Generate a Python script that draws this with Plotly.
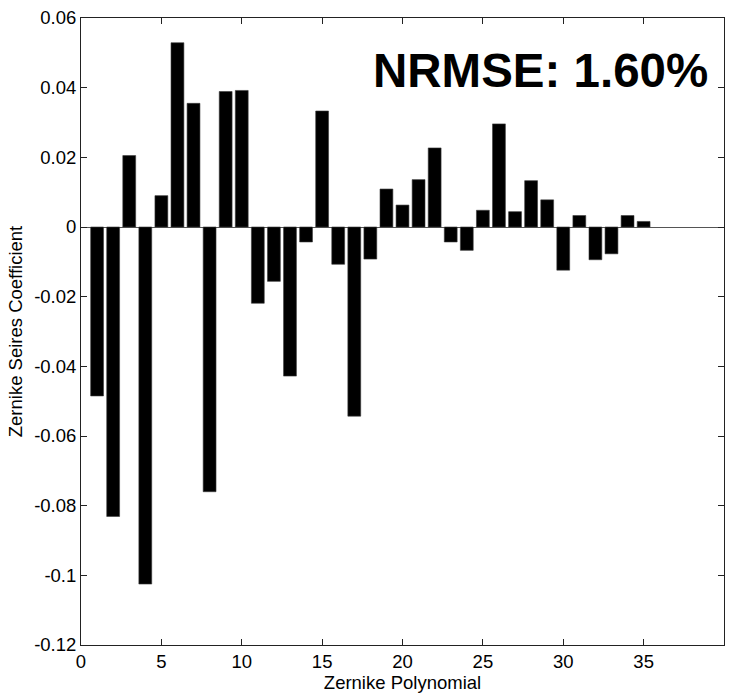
import plotly.graph_objects as go

# Zernike polynomial index
polynomials = list(range(1, 36))
# Zernike series coefficients
coefficients = [
    -0.0485, -0.0831, 0.0205, -0.1025, 0.0090,
    0.0529, 0.0355, -0.0760, 0.0389, 0.0392,
    -0.0219, -0.0156, -0.0428, -0.0043, 0.0333,
    -0.0107, -0.0543, -0.0092, 0.0109, 0.0063,
    0.0136, 0.0227, -0.0043, -0.0067, 0.0048,
    0.0296, 0.0044, 0.0133, 0.0078, -0.0124,
    0.0033, -0.0094, -0.0077, 0.0033, 0.0016,
]

x_tickvals = [0, 5, 10, 15, 20, 25, 30, 35, 40]
x_ticktext = ["0", "5", "10", "15", "20", "25", "30", "35", "40"]
y_tickvals = [0.06, 0.04, 0.02, 0, -0.02, -0.04, -0.06, -0.08, -0.1, -0.12]
y_ticktext = ["0.06", "0.04", "0.02", "0", "-0.02", "-0.04", "-0.06", "-0.08", "-0.1", "-0.12"]

annotation_text = "NRMSE: 1.60%"
x_title = "Zernike Polynomial"
y_title = "Zernike Seires Coefficient"

FONT = "Liberation Sans, Arial, Helvetica, sans-serif"

fig = go.Figure()
fig.add_trace(go.Bar(
    x=polynomials,
    y=coefficients,
    width=0.8,
    marker=dict(color="black", line=dict(color="#3a3a3a", width=0.6)),
    showlegend=False,
))

axis_common = dict(
    showline=True,
    linecolor="#222222",
    linewidth=1,
    mirror="ticks",
    ticks="inside",
    ticklen=6,
    tickwidth=1,
    tickcolor="#222222",
    showgrid=False,
    tickfont=dict(family=FONT, size=18.5, color="black"),
)

fig.update_xaxes(
    range=[0, 40],
    tickvals=x_tickvals,
    ticktext=x_ticktext,
    zeroline=False,
    title=dict(text=x_title, font=dict(family=FONT, size=18.5, color="black"), standoff=2),
    **axis_common,
)
fig.update_yaxes(
    range=[-0.12, 0.06],
    tickvals=y_tickvals,
    ticktext=y_ticktext,
    zeroline=True,
    zerolinecolor="#555555",
    zerolinewidth=1,
    title=dict(text=y_title, font=dict(family=FONT, size=18.5, color="black"), standoff=6),
    **axis_common,
)

fig.add_annotation(
    text="<b>" + annotation_text + "</b>",
    xref="paper", yref="paper",
    x=0.979, y=0.917,
    xanchor="right", yanchor="middle",
    showarrow=False,
    font=dict(family=FONT, size=47.5, color="black"),
)

fig.update_layout(
    width=732,
    height=694,
    margin=dict(l=81, r=7, t=14, b=45),
    paper_bgcolor="white",
    plot_bgcolor="white",
    bargap=0.2,
)

fig.write_html("out.html")
